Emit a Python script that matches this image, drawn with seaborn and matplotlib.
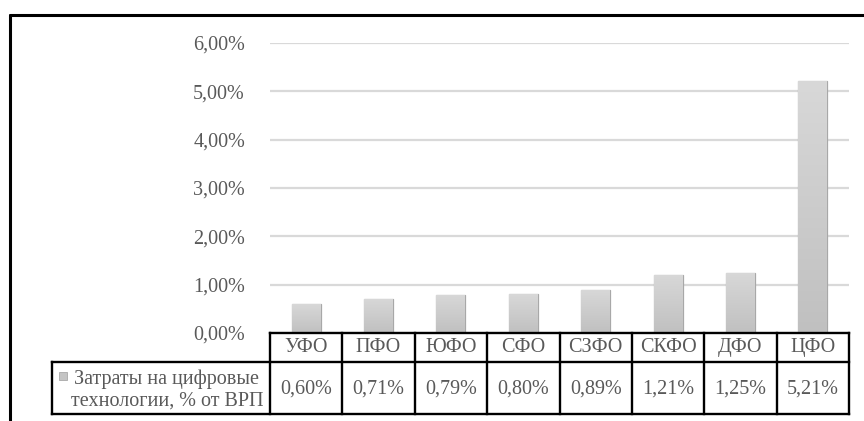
import numpy as np
import pandas as pd
import matplotlib
matplotlib.use('Agg')
import matplotlib.pyplot as plt
import matplotlib.transforms as mtransforms
from matplotlib.lines import Line2D
from matplotlib.patches import Rectangle
from matplotlib.ticker import FuncFormatter
from matplotlib.colors import LinearSegmentedColormap
import seaborn as sns

# данные
regions = ['УФО', 'ПФО', 'ЮФО', 'СФО', 'СЗФО', 'СКФО', 'ДФО', 'ЦФО']
values = [0.60, 0.71, 0.79, 0.80, 0.89, 1.21, 1.25, 5.21]
y_ticks = [0, 1, 2, 3, 4, 5, 6]
series_name = 'Затраты на цифровые\nтехнологии, % от ВРП'


def pct(v, pos=None):
    return f'{v:.2f}'.replace('.', ',') + '%'


sns.set_theme(style='white')
plt.rcParams['font.family'] = ['Liberation Serif', 'DejaVu Serif']
plt.rcParams['font.size'] = 14.5

W, H = 864, 421
fig = plt.figure(figsize=(W / 100, H / 100), dpi=100)


def fx(px):
    return px / W


def fy(py):
    return 1 - py / H


text_col = '#595959'

ax = fig.add_axes([fx(270), fy(333), fx(849) - fx(270), fy(43) - fy(333)])
df = pd.DataFrame({'region': regions, 'value': values})
sns.barplot(data=df, x='region', y='value', color='#c8c8c8', width=0.40,
            edgecolor='#a8a8a8', linewidth=0.9, saturation=1, ax=ax)

# градиент на столбиках
cmap = LinearSegmentedColormap.from_list('g', ['#c0c0c0', '#d8d8d8'])
grad = np.linspace(0, 1, 256).reshape(-1, 1)
for p in ax.patches:
    x0, y0 = p.get_x(), p.get_y()
    w, h = p.get_width(), p.get_height()
    im = ax.imshow(grad, cmap=cmap, aspect='auto', origin='lower',
                   extent=(x0, x0 + w, y0, y0 + h), zorder=p.get_zorder())
    im.set_clip_path(p)

ax.set_xlim(-0.5, len(regions) - 0.5)
ax.set_ylim(0, 6)
ax.set_yticks(y_ticks)
ax.yaxis.set_major_formatter(FuncFormatter(pct))
ax.tick_params(axis='y', length=0, pad=18, colors=text_col, labelsize=14.5)
ax.tick_params(axis='x', length=0, labelbottom=False)
ax.set_xlabel('')
ax.set_ylabel('')
ax.yaxis.grid(True, color='#d9d9d9', linewidth=1.6)
ax.set_axisbelow(True)
for s in ax.spines.values():
    s.set_visible(False)

# таблица данных под осью
trans = mtransforms.blended_transform_factory(ax.transData, fig.transFigure)
lw = 1.7
ax.plot([-0.5, len(regions) - 0.5], [fy(333)] * 2, transform=trans,
        color='black', lw=lw, clip_on=False, solid_capstyle='projecting')
for i in range(len(regions) + 1):
    ax.plot([i - 0.5] * 2, [fy(333), fy(414)], transform=trans,
            color='black', lw=lw, clip_on=False, solid_capstyle='projecting')
for yy in (362, 414):
    fig.add_artist(Line2D([fx(52), fx(849)], [fy(yy)] * 2, color='black',
                          lw=lw, solid_capstyle='projecting'))
fig.add_artist(Line2D([fx(52)] * 2, [fy(362), fy(414)], color='black',
                      lw=lw, solid_capstyle='projecting'))

for i, (reg, v) in enumerate(zip(regions, values)):
    ax.text(i, fy(347.5), reg, transform=trans, ha='center', va='center',
            color=text_col, fontsize=14.5)
    ax.text(i, fy(389), pct(v), transform=trans, ha='center', va='center',
            color=text_col, fontsize=14.5)

fig.add_artist(Rectangle((fx(59), fy(380)), fx(8), fy(372) - fy(380),
                         facecolor='#c4c4c4', edgecolor='#a8a8a8', lw=0.6))
fig.text(fx(167), fy(390), series_name, ha='center', va='center',
         multialignment='center', color=text_col, fontsize=14.5,
         linespacing=1.12)

# рамка
fig.add_artist(Line2D([fx(10), fx(10)], [fy(15), 0], color='black', lw=2.2))
fig.add_artist(Line2D([fx(10), 1], [fy(15), fy(15)], color='black', lw=2.2))

fig.savefig('out.png', dpi=100)
